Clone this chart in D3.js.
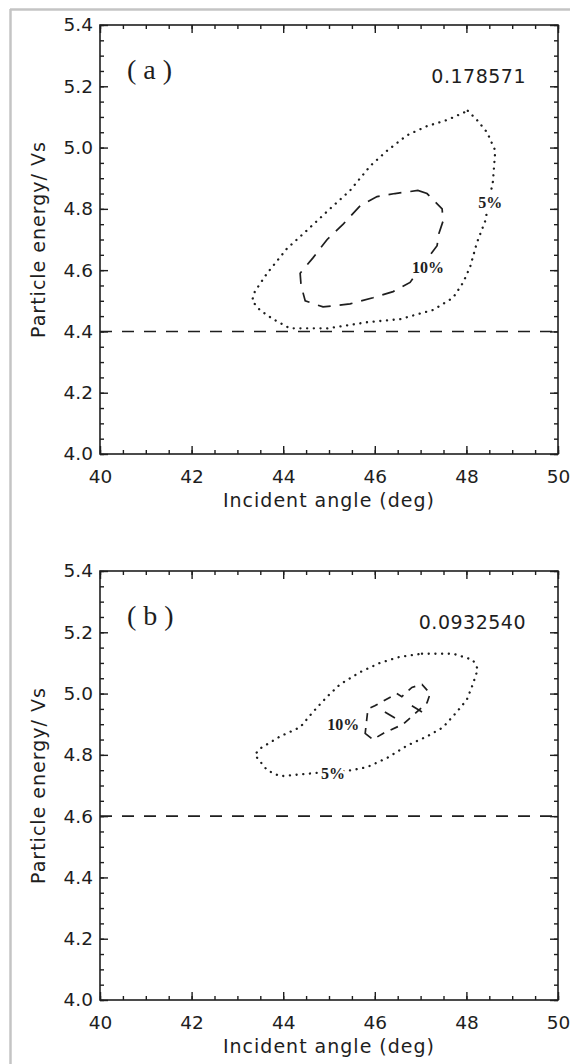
<!DOCTYPE html>
<html>
<head>
<meta charset="utf-8">
<script src="https://cdn.jsdelivr.net/npm/d3@7"></script>
<style>
    html, body { margin: 0; padding: 0; background: #fff; }
    svg { display: block; }
    .axis text { font-family: 'DejaVu Sans', sans-serif; font-size: 18.5px; fill: #1e1e1e; }
    .axis line { stroke: #1e1e1e; stroke-width: 1.4; }
    .axis path { display: none; }
</style>
</head>
<body>
<div class="content"></div>
<script>
// tick values
const xMajor = [40, 42, 44, 46, 48, 50];
const xMinor = d3.range(40, 50.01, 0.5);
const yMajor = [4.0, 4.2, 4.4, 4.6, 4.8, 5.0, 5.2, 5.4];
const yMinor = d3.range(4.0, 5.401, 0.05);

const panelNames = ['(a)', '(b)'];
const maxValues = ['0.178571', '0.0932540'];
const thresholds = [4.4, 4.6];

// 5% contour (dotted), panel a
const contour5a = [
    [48.03, 5.12], [48.23, 5.09], [48.45, 5.05], [48.63, 4.99], [48.58, 4.89],
    [48.41, 4.76], [48.23, 4.69], [48.08, 4.61], [47.93, 4.56], [47.71, 4.51],
    [47.27, 4.47], [46.55, 4.44], [45.83, 4.43], [44.96, 4.41], [44.15, 4.41],
    [43.78, 4.44], [43.49, 4.47], [43.32, 4.50], [43.38, 4.53], [43.65, 4.59],
    [44.08, 4.67], [44.52, 4.73], [45.02, 4.80], [45.46, 4.86], [45.90, 4.94],
    [46.27, 4.99], [46.70, 5.04], [47.14, 5.07], [47.58, 5.09]
];
// 10% contour (dashed), panel a
const contour10a = [
    [46.94, 4.86], [47.14, 4.85], [47.47, 4.80], [47.49, 4.76], [47.40, 4.72],
    [47.36, 4.68], [46.77, 4.56], [46.40, 4.53], [45.96, 4.51], [45.46, 4.49],
    [44.87, 4.48], [44.48, 4.50], [44.39, 4.55], [44.37, 4.59], [44.65, 4.64],
    [44.96, 4.70], [45.31, 4.75], [45.68, 4.81], [46.05, 4.84], [46.44, 4.85]
];
// 5% contour (dotted), panel b
const contour5b = [
    [47.03, 5.13], [47.71, 5.13], [48.14, 5.11], [48.25, 5.08], [48.14, 5.03],
    [48.01, 4.98], [47.79, 4.94], [47.49, 4.89], [47.14, 4.86], [46.70, 4.83],
    [46.27, 4.79], [45.83, 4.76], [45.50, 4.75], [44.65, 4.74], [43.93, 4.73],
    [43.65, 4.75], [43.38, 4.80], [43.49, 4.82], [43.93, 4.86], [44.37, 4.89],
    [44.65, 4.94], [44.96, 4.99], [45.24, 5.03], [45.68, 5.07], [46.11, 5.10],
    [46.55, 5.12]
];
// 10% contour (dashed), panel b
const contour10b = [
    [45.79, 4.87], [45.96, 4.85], [46.18, 4.87], [46.62, 4.90], [47.14, 4.97],
    [47.21, 5.00], [47.03, 5.03], [46.81, 5.02], [46.59, 4.99], [46.48, 5.00],
    [46.00, 4.96], [45.85, 4.95]
];
const contour10bInner = [
    [[46.22, 4.94], [46.44, 4.92]],
    [[46.81, 4.96], [47.03, 4.94]]
];
// contour label anchors [x, y]
const label5 = [[48.52, 4.82], [45.09, 4.74]];
const label10 = [[47.16, 4.61], [45.31, 4.90]];

let W = 570, H = 1064;
let panels = [
    {top: 25, bottom: 454, left: 100, right: 558},
    {top: 571, bottom: 1000, left: 100, right: 558}
];

let svg = d3.select('.content').append('svg')
    .attr('width', W)
    .attr('height', H);

svg.append('rect').attr('width', W).attr('height', H).attr('fill', '#fff');

// grey scan frame
svg.append('line').attr('x1', 10).attr('x2', W).attr('y1', 9.5).attr('y2', 9.5)
    .attr('stroke', '#c4c4c4').attr('stroke-width', 2.5);
svg.append('line').attr('x1', 10.5).attr('x2', 10.5).attr('y1', 9).attr('y2', H)
    .attr('stroke', '#c4c4c4').attr('stroke-width', 2.5);

let ink = '#1e1e1e';

function drawPanel(i, c5, c10, c10inner) {
    let p = panels[i];
    let width = p.right - p.left;
    let height = p.bottom - p.top;

    let x = d3.scaleLinear().domain([40, 50]).range([0, width]);
    let y = d3.scaleLinear().domain([4.0, 5.4]).range([height, 0]);

    let g = svg.append('g').attr('transform', 'translate(' + p.left + ',' + p.top + ')');

    // bottom axis with labels
    g.append('g').attr('class', 'axis')
        .attr('transform', 'translate(0,' + height + ')')
        .call(d3.axisBottom(x).tickValues(xMajor).tickSize(-8).tickPadding(16).tickFormat(d3.format('d')));
    g.append('g').attr('class', 'axis')
        .attr('transform', 'translate(0,' + height + ')')
        .call(d3.axisBottom(x).tickValues(xMinor).tickSize(-4).tickFormat(''));
    // top mirror
    g.append('g').attr('class', 'axis')
        .call(d3.axisTop(x).tickValues(xMajor).tickSize(-8).tickFormat(''));
    g.append('g').attr('class', 'axis')
        .call(d3.axisTop(x).tickValues(xMinor).tickSize(-4).tickFormat(''));

    // left axis with labels
    g.append('g').attr('class', 'axis')
        .call(d3.axisLeft(y).tickValues(yMajor).tickSize(-8).tickPadding(7).tickFormat(d3.format('.1f')));
    g.append('g').attr('class', 'axis')
        .call(d3.axisLeft(y).tickValues(yMinor).tickSize(-4).tickFormat(''));
    // right mirror
    g.append('g').attr('class', 'axis')
        .attr('transform', 'translate(' + width + ',0)')
        .call(d3.axisRight(y).tickValues(yMajor).tickSize(-8).tickFormat(''));
    g.append('g').attr('class', 'axis')
        .attr('transform', 'translate(' + width + ',0)')
        .call(d3.axisRight(y).tickValues(yMinor).tickSize(-4).tickFormat(''));

    // frame
    g.append('rect')
        .attr('width', width).attr('height', height)
        .attr('fill', 'none').attr('stroke', ink).attr('stroke-width', 1.6);

    // axis titles
    g.append('text')
        .attr('x', width / 2).attr('y', height + 46)
        .attr('text-anchor', 'middle').attr('dominant-baseline', 'central')
        .style('font-family', "'DejaVu Sans', sans-serif").style('font-size', '19px')
        .style('letter-spacing', '1px').attr('fill', ink)
        .text('Incident angle (deg)');
    g.append('text')
        .attr('transform', 'translate(' + (-62) + ',' + (height / 2) + ') rotate(-90)')
        .attr('text-anchor', 'middle').attr('dominant-baseline', 'central')
        .style('font-family', "'DejaVu Sans', sans-serif").style('font-size', '19px')
        .style('letter-spacing', '1px').attr('fill', ink)
        .text('Particle energy/ Vs');

    // threshold line
    g.append('line')
        .attr('x1', x(40)).attr('x2', x(50))
        .attr('y1', y(thresholds[i])).attr('y2', y(thresholds[i]))
        .attr('stroke', ink).attr('stroke-width', 1.6)
        .attr('stroke-dasharray', '12,10');

    let line = d3.line().x(d => x(d[0])).y(d => y(d[1]));

    // 5% contour, dotted
    g.append('path')
        .datum(c5)
        .attr('d', line.curve(d3.curveLinearClosed))
        .attr('fill', 'none').attr('stroke', ink).attr('stroke-width', 2.3)
        .attr('stroke-linecap', 'round').attr('stroke-dasharray', '0.1,6.6');

    // 10% contour, dashed
    g.append('path')
        .datum(c10)
        .attr('d', line.curve(d3.curveLinearClosed))
        .attr('fill', 'none').attr('stroke', ink).attr('stroke-width', 1.7)
        .attr('stroke-dasharray', i === 0 ? '13,9' : '8,7');

    if (c10inner) {
        g.selectAll('.inner')
            .data(c10inner)
            .enter().append('path')
            .attr('d', line.curve(d3.curveLinear))
            .attr('fill', 'none').attr('stroke', ink).attr('stroke-width', 1.7);
    }

    // contour labels
    [['5%', label5[i]], ['10%', label10[i]]].forEach(function (l) {
        g.append('text')
            .attr('x', x(l[1][0])).attr('y', y(l[1][1]))
            .attr('text-anchor', 'middle').attr('dominant-baseline', 'central')
            .style('font-family', "'Liberation Serif', serif").style('font-size', '16px')
            .style('font-weight', 'bold')
            .attr('fill', ink).attr('stroke', '#fff').attr('stroke-width', 6)
            .style('paint-order', 'stroke')
            .text(l[0]);
    });

    // panel name
    g.append('text')
        .attr('x', 27).attr('y', 54)
        .style('font-family', "'Liberation Serif', serif").style('font-size', '28px')
        .style('letter-spacing', '7px')
        .attr('fill', ink)
        .text(panelNames[i]);

    // max value
    g.append('text')
        .attr('x', width - 32).attr('y', 58)
        .attr('text-anchor', 'end')
        .style('font-family', "'DejaVu Sans', sans-serif").style('font-size', '19px')
        .style('letter-spacing', '0.5px')
        .attr('fill', ink)
        .text(maxValues[i]);
}

drawPanel(0, contour5a, contour10a, null);
drawPanel(1, contour5b, contour10b, contour10bInner);
</script>
</body>
</html>
